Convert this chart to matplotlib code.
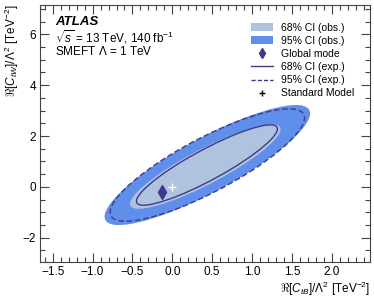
import numpy as np
import matplotlib
matplotlib.use('Agg')
import matplotlib.pyplot as plt
from matplotlib.patches import Ellipse, Patch
from matplotlib.lines import Line2D
from matplotlib.ticker import MultipleLocator

plt.rcParams['font.family'] = ['Liberation Sans', 'DejaVu Sans']
plt.rcParams['mathtext.fontset'] = 'custom'
plt.rcParams['mathtext.rm'] = 'Liberation Sans'
plt.rcParams['mathtext.it'] = 'Liberation Sans:italic'
plt.rcParams['mathtext.bf'] = 'Liberation Sans:bold'

# contour shapes: centre, sigma_x, sigma_y, correlation
ci_names = ['95% CI (obs.)', '68% CI (obs.)', '95% CI (exp.)', '68% CI (exp.)']
ci_cx = [0.44, 0.415, 0.44, 0.435]
ci_cy = [0.86, 0.80, 0.86, 0.86]
ci_sx = [1.29, 0.945, 1.22, 0.885]
ci_sy = [2.36, 1.66, 2.21, 1.58]
ci_rho = [0.86, 0.885, 0.84, 0.9]

mode_x, mode_y = [-0.13], [-0.2]
sm_x, sm_y = [0.0], [0.0]

c_light = '#afc3df'
c_blue = '#5f8fea'
c_dark = '#3d3a8c'


def ellipse(i, **kw):
    cov = np.array([[ci_sx[i] ** 2, ci_rho[i] * ci_sx[i] * ci_sy[i]],
                    [ci_rho[i] * ci_sx[i] * ci_sy[i], ci_sy[i] ** 2]])
    vals, vecs = np.linalg.eigh(cov)
    ang = np.degrees(np.arctan2(vecs[1, 1], vecs[0, 1]))
    return Ellipse((ci_cx[i], ci_cy[i]), 2 * np.sqrt(vals[1]), 2 * np.sqrt(vals[0]),
                   angle=ang, **kw)


fig = plt.figure(figsize=(3.74, 2.99), dpi=100)
ax = fig.add_axes([0.107, 0.124, 0.882, 0.859])

ax.add_patch(ellipse(0, facecolor=c_blue, edgecolor='none'))
ax.add_patch(ellipse(1, facecolor=c_light, edgecolor='none'))
ax.add_patch(ellipse(2, facecolor='none', edgecolor=c_dark, lw=1.0, ls=(0, (4, 2))))
ax.add_patch(ellipse(3, facecolor='none', edgecolor=c_dark, lw=1.0))
ax.plot(mode_x, mode_y, marker='d', color=c_dark, ms=7, ls='none')
ax.plot(sm_x, sm_y, marker='+', color='white', ms=6, mew=1.0, ls='none')

ax.set_xlim(-1.66, 2.48)
ax.set_ylim(-2.95, 7.15)
ax.xaxis.set_major_locator(MultipleLocator(0.5))
ax.xaxis.set_minor_locator(MultipleLocator(0.1))
ax.yaxis.set_major_locator(MultipleLocator(2))
ax.yaxis.set_minor_locator(MultipleLocator(0.5))
ax.tick_params(which='both', direction='in', top=True, right=True, labelsize=8.5, color='#444')
ax.tick_params(which='major', length=6.5, width=0.8, pad=3)
ax.tick_params(which='minor', length=3.5, width=0.8)
for s in ax.spines.values():
    s.set_color('#444')

ax.set_xlabel(r'$\Re[C_{tB}]/\Lambda^2$ [TeV$^{-2}$]', loc='right', fontsize=8.5, labelpad=1)
ax.set_ylabel(r'$\Re[C_{tW}]/\Lambda^2$ [TeV$^{-2}$]', loc='top', fontsize=8.5, labelpad=1)

ax.text(0.045, 0.934, 'ATLAS', transform=ax.transAxes, fontsize=9.5, va='center',
        fontweight='bold', fontstyle='italic')
ax.text(0.045, 0.875, r'$\sqrt{s}$ = 13 TeV, 140 fb$^{-1}$', transform=ax.transAxes,
        fontsize=8.5, va='center')
ax.text(0.045, 0.821, r'SMEFT $\Lambda$ = 1 TeV', transform=ax.transAxes, fontsize=8.5,
        va='center')

handles = [Patch(facecolor=c_light, edgecolor='none'),
           Patch(facecolor=c_blue, edgecolor='none'),
           Line2D([], [], marker='d', color=c_dark, ls='none', ms=5),
           Line2D([], [], color=c_dark, lw=1.0),
           Line2D([], [], color=c_dark, lw=1.0, ls=(0, (3, 1.5))),
           Line2D([], [], marker='+', color='black', ls='none', ms=5)]
labels = ['68% CI (obs.)', '95% CI (obs.)', 'Global mode',
          '68% CI (exp.)', '95% CI (exp.)', 'Standard Model']
ax.legend(handles, labels, loc='upper right', bbox_to_anchor=(0.975, 0.96), frameon=False,
          fontsize=7.5, handlelength=2.1, labelspacing=0.3, handletextpad=0.8,
          borderpad=0.2)

fig.savefig('out.png', dpi=100)
